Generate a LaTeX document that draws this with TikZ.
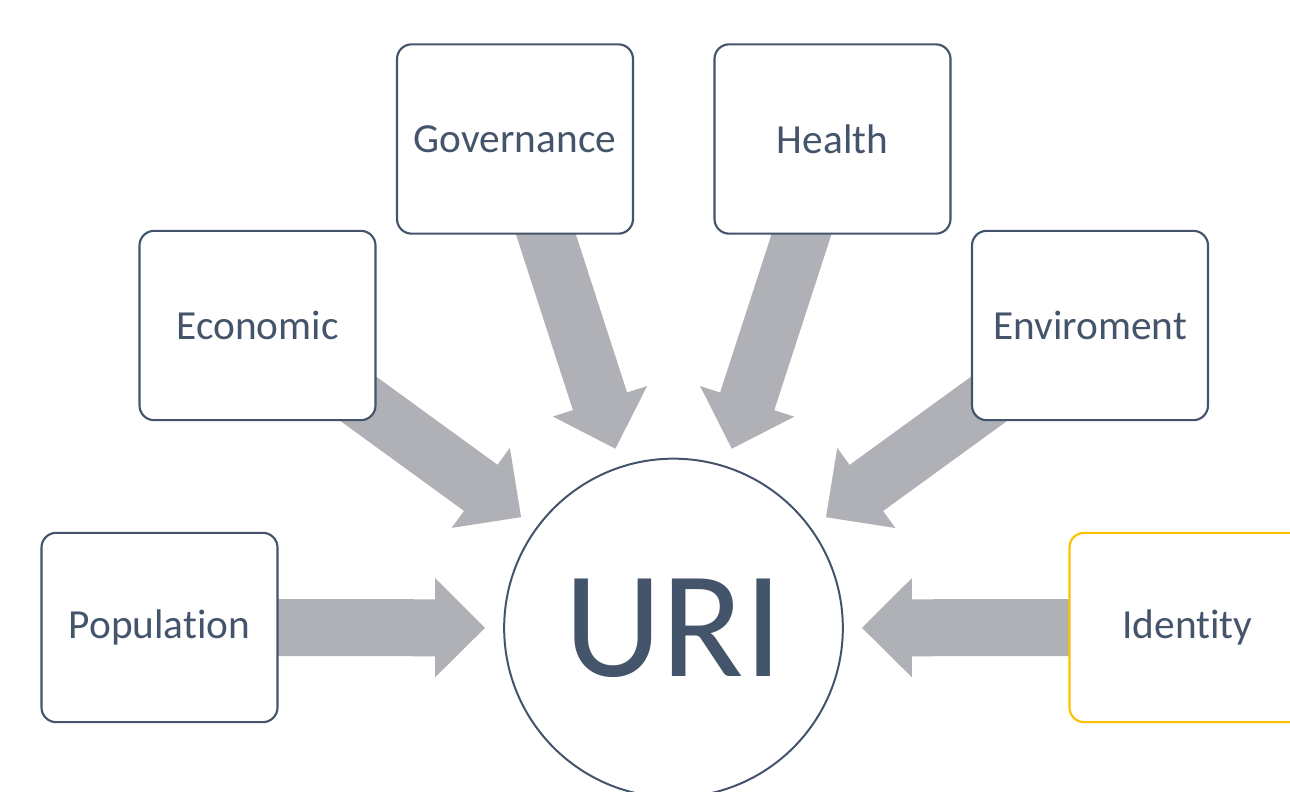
\documentclass[tikz,border=0pt]{standalone}
\usepackage{fontspec}
\setmainfont{Carlito}[Ligatures=NoCommon]
\usetikzlibrary{arrows.meta, backgrounds}
\definecolor{slate}{HTML}{44546A}
\definecolor{arrowgrey}{HTML}{AFB1B6}
\definecolor{gold}{HTML}{FFC000}

\tikzset{
  factor/.style={rectangle, rounded corners=11pt, minimum width=177pt, minimum height=142pt,
    draw=slate, line width=1.6pt, fill=white, text=slate, font=\fontsize{31}{37}\selectfont},
  hub/.style={circle, minimum size=254pt, inner sep=0pt, draw=slate, line width=1.5pt,
    fill=white, text=slate, font=\fontsize{114}{114}\selectfont},
  flow/.style={draw=arrowgrey, line width=42.75pt, shorten >=13.5pt,
    -{Triangle[length=37.5pt, width=72pt]}}
}

\begin{document}
\begin{tikzpicture}[x=0.75pt, y=-0.75pt]
\clip (0,0) rectangle (1290,792);

% Central circle
\node[hub] (uri) at (673.5,628) {URI};

% Factors around it
\node[factor] (population) at (159.5,627.5) {Population};
\node[factor] (economic) at (257.5,325.5) {Economic};
\node[factor] (governance) at (515,139) {Governance};
\node[factor] (health) at (832.5,139) {Health};
\node[factor] (enviroment) at (1090,325.5) {Enviroment};
\node[factor, draw=gold] (identity) at (1187.5,627.5) {Identity};

% Block arrows, behind the boxes
\begin{scope}[on background layer]
\foreach \f in {population, economic, governance, health, enviroment, identity}
  \draw[flow] (\f.center) -- (uri);
\end{scope}

\end{tikzpicture}
\end{document}
